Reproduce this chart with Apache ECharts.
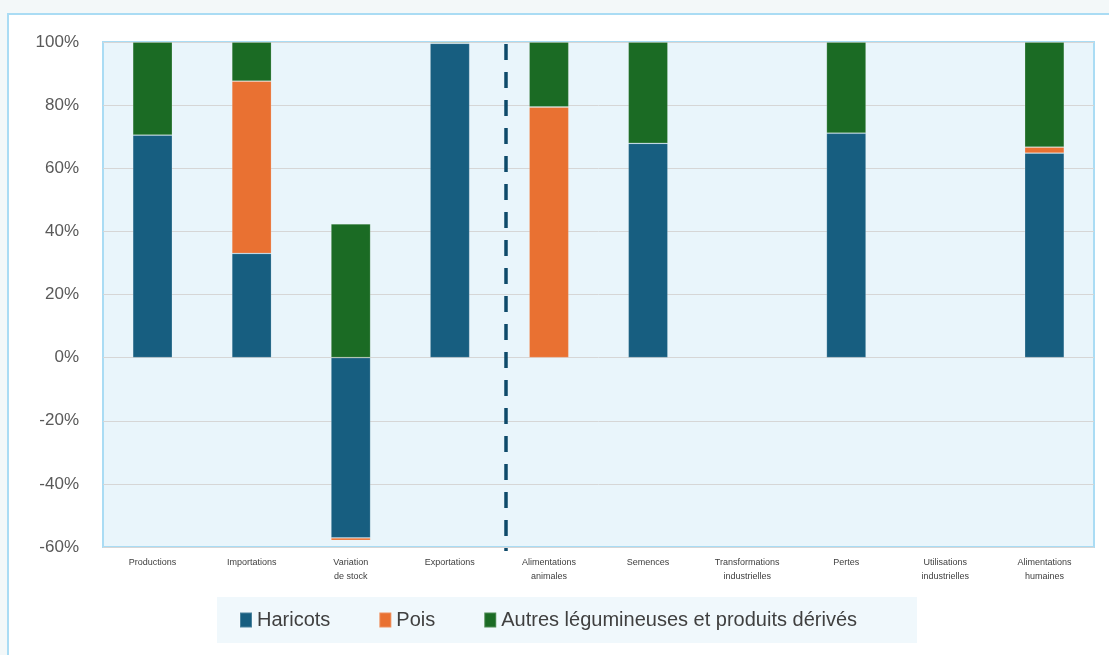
<!DOCTYPE html>
<html><head><meta charset="utf-8">
<script src="https://cdn.jsdelivr.net/npm/echarts@6/dist/echarts.min.js"></script>
<style>html,body{margin:0;padding:0;background:#f3f8f9}#c{width:1109px;height:655px}</style>
</head><body><div id="c"></div>
<script>
const categories = ['Productions','Importations','Variation\nde stock','Exportations','Alimentations\nanimales','Semences','Transformations\nindustrielles','Pertes','Utilisations\nindustrielles','Alimentations\nhumaines'];
const haricots = [70.5, 33, -57.1, 99.6, null, 67.9, null, 71.1, null, 64.8];
const pois     = [null, 54.6, -0.8, null, 79.4, null, null, null, null, 1.9];
const autres   = [29.5, 12.4, 42.4, 0.4, 20.6, 32.1, null, 28.9, null, 33.3];
const yTicks = {min: -60, max: 100, interval: 20};

const chart = echarts.init(document.getElementById('c'));
const barStyle = (c) => ({color: c, borderColor: 'rgba(255,255,255,0.22)', borderWidth: 0.8});
chart.setOption({
  backgroundColor: '#f3f8f9',
  animation: false,
  graphic: [{type:'rect', z:-10, shape:{x:8,y:14,width:1110,height:660}, style:{fill:'#ffffff', stroke:'#aadcf4', lineWidth:2}}],
  grid: {left:103, right:15, top:42, bottom:108, show:true, backgroundColor:'#e9f5fb', borderColor:'#aadcf4', borderWidth:2},
  legend: {
    left: 217, top: 597, itemWidth: 12, itemHeight: 15, itemGap: 48,
    backgroundColor: '#f0f8fc', padding: [13, 60, 13, 22],
    icon: 'rect',
    textStyle: {fontFamily: 'Liberation Sans, Arial', fontSize: 20, color: '#404040'},
    data: ['Haricots','Pois','Autres légumineuses et produits dérivés']
  },
  xAxis: {
    type: 'category', data: categories,
    axisLine: {show:false}, axisTick: {show:false},
    axisLabel: {interval:0, fontSize: 9, color:'#404040', margin: 9, lineHeight: 14, fontFamily:'Liberation Sans, Arial'}
  },
  yAxis: {
    type: 'value', min: yTicks.min, max: yTicks.max, interval: yTicks.interval,
    axisLabel: {formatter: '{value}%', fontSize: 17, color: '#595959', margin: 24, fontFamily:'Liberation Sans, Arial'},
    splitLine: {lineStyle: {color:'#d6d6d6', width:1}},
    axisLine: {show:false}, axisTick: {show:false}
  },
  series: [
    {name:'Haricots', type:'bar', stack:'s', barWidth:'40%', data:haricots, itemStyle:barStyle('#175e80')},
    {name:'Pois', type:'bar', stack:'s', data:pois, itemStyle:barStyle('#e97132')},
    {name:'Autres légumineuses et produits dérivés', type:'bar', stack:'s', data:autres, itemStyle:barStyle('#1b6b24')}
  ]
});
const xa = chart.convertToPixel({xAxisIndex:0}, 3);
const xb = chart.convertToPixel({xAxisIndex:0}, 4);
const yt = chart.convertToPixel({yAxisIndex:0}, yTicks.max);
const yb = chart.convertToPixel({yAxisIndex:0}, yTicks.min);
const xm = Math.round(xa + (xb - xa) * 0.57);
chart.setOption({graphic: [
  {type:'rect', z:-10, shape:{x:8,y:14,width:1110,height:660}, style:{fill:'#ffffff', stroke:'#aadcf4', lineWidth:2}},
  {type:'line', z:100, shape:{x1:xm, y1:yt+2, x2:xm, y2:yb+4}, style:{stroke:'#0e4a6a', lineWidth:3.5, lineDash:[16,12]}}
]});
</script></body></html>
